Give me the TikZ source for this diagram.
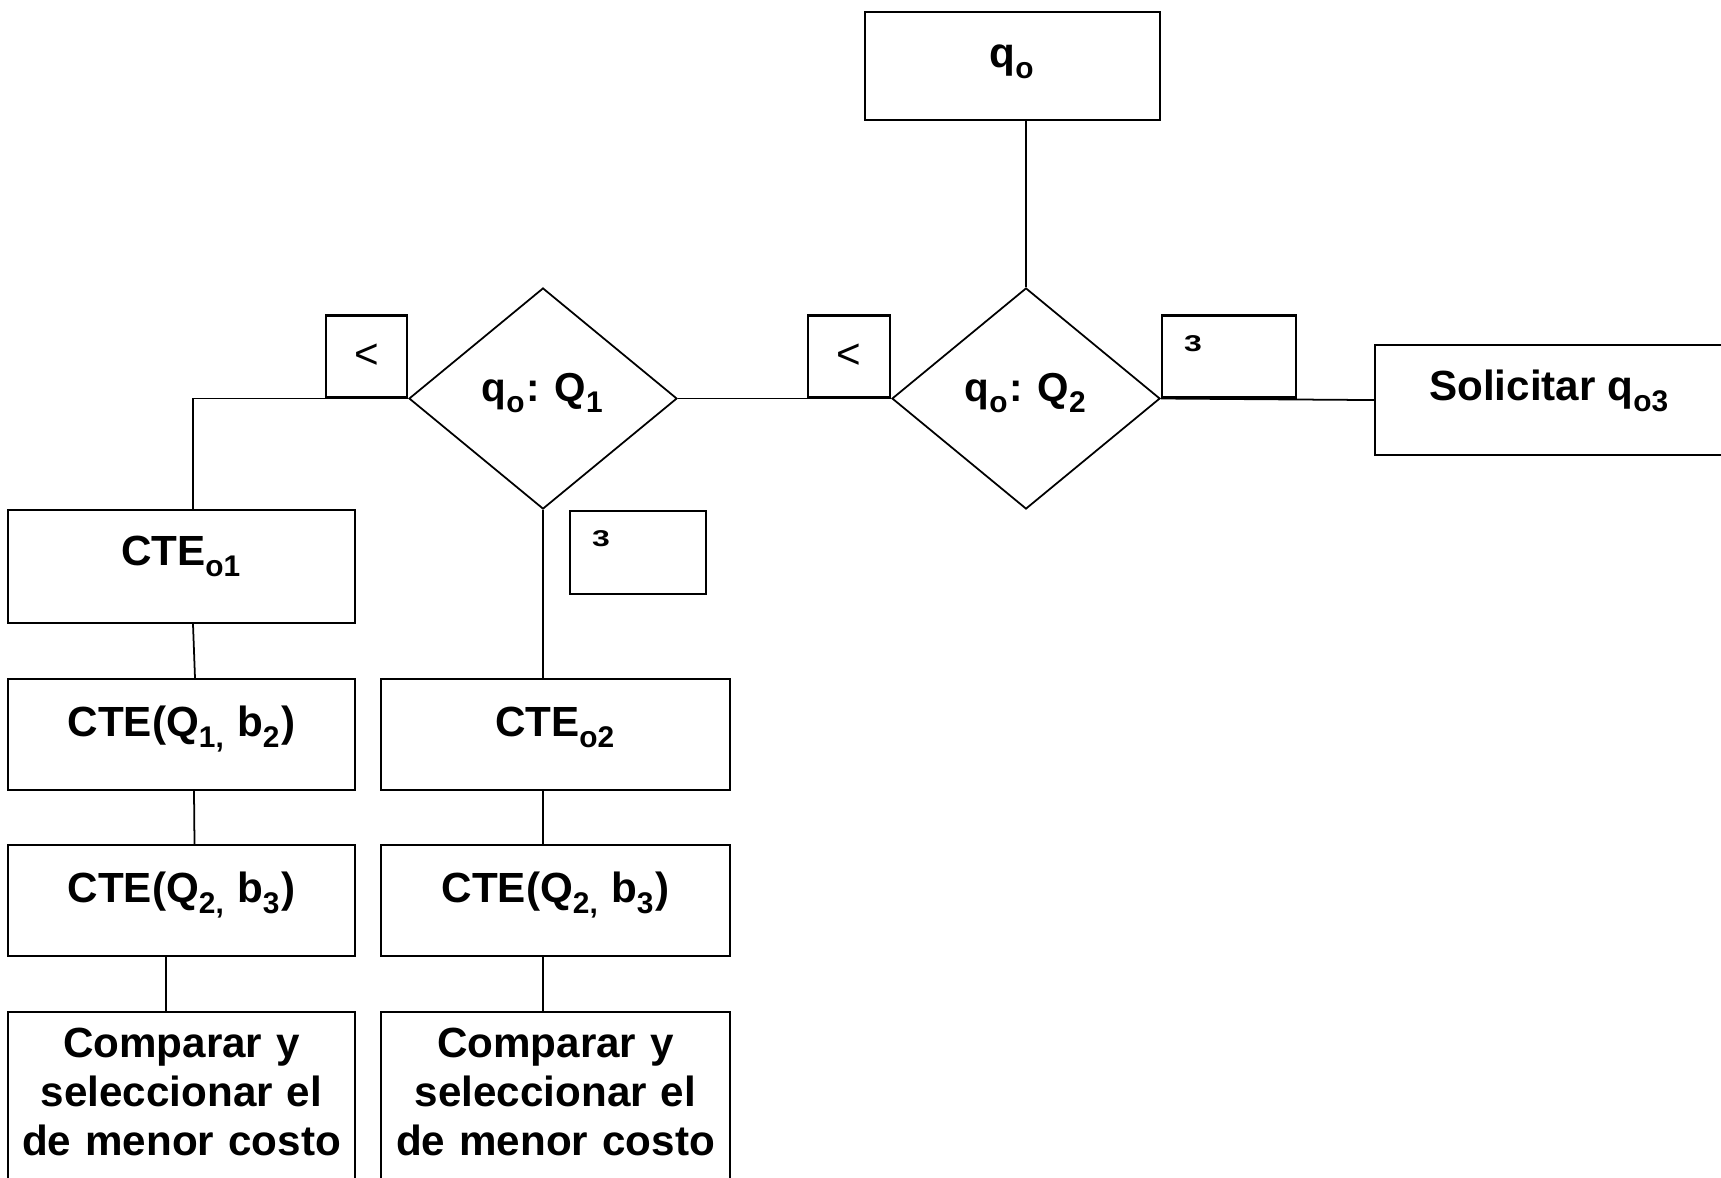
\documentclass[tikz,border=0pt]{standalone}
\usepackage{fontspec}
\setmainfont{Liberation Sans}
\usepackage{tikz}
\usetikzlibrary{shapes.geometric}

\newcommand{\idx}[1]{\raisebox{-0.26em}{\fontsize{8.5}{9}\selectfont #1}\kern0.04em\relax}

\begin{document}
\begin{tikzpicture}[
    caja/.style={draw, line width=0.6, inner sep=0, minimum width=3.47cm,
                 text height=0.57cm, text depth=0.54cm,
                 font=\fontsize{12}{14}\selectfont\bfseries},
    rombo/.style={draw, diamond, line width=0.5, inner sep=0, minimum width=2.68cm,
                  minimum height=2.21cm, text height=0.36cm, text depth=0.30cm,
                  font=\fontsize{11.5}{14}\selectfont\bfseries},
    marca/.style={draw, line width=0.6, inner sep=0, minimum height=0.82cm,
                  font=\fontsize{12}{14}\selectfont},
    tres/.style={inner sep=0, font=\fontsize{6.5}{7}\selectfont\bfseries},
    enlace/.style={line width=0.5}]

  \useasboundingbox (0, 0) rectangle (17.21, -11.77);
  \clip (0, 0) rectangle (17.21, -11.77);

  % top row
  \node[caja, minimum width=2.95cm, text height=0.55cm, text depth=0.53cm, anchor=north]
    (qo) at (10.125, -0.11) {q\idx{o}};
  \node[rombo] (q2) at (10.26, -3.985) {q\idx{o}: Q\idx{2}};
  \node[rombo] (q1) at (5.43, -3.985) {q\idx{o}: Q\idx{1}};
  \node[caja, minimum width=3.49cm, text height=0.55cm, text depth=0.55cm, anchor=north west]
    (sol) at (13.74, -3.44) {Solicitar q\idx{o3}};

  % signs
  \node[marca, minimum width=0.81cm, anchor=south east] (mA) at (q1.west) {<};
  \node[marca, minimum width=0.82cm, anchor=south east] (mB) at (q2.west) {<};
  \node[marca, minimum width=1.34cm, anchor=south west] (mC) at (q2.east) {};
  \node[marca, minimum width=1.36cm, minimum height=0.83cm, anchor=north west]
    (mD) at ([xshift=0.26cm]q1.south) {};
  \node[tres] (tC) at ([shift={(0.32, -0.29)}]mC.north west) {\scalebox{1.4}[1]{3}};
  \node[tres] (tD) at ([shift={(0.32, -0.29)}]mD.north west) {\scalebox{1.4}[1]{3}};

  % left column
  \node[caja, text height=0.55cm, text depth=0.58cm, anchor=north] (cteA) at (1.815, -5.09) {CTE\idx{o1}};
  \node[caja, anchor=north] (cteB) at (1.815, -6.78) {CTE(Q\idx{1,} b\idx{2})};
  \node[caja, anchor=north] (cteC) at (1.815, -8.44) {CTE(Q\idx{2,} b\idx{3})};
  \node[caja, text width=3.47cm, align=center, text height=0.45cm, text depth=1.60cm, anchor=north]
    (cmpL) at (1.815, -10.11) {Comparar y\\seleccionar el\\de menor costo};

  % middle column
  \node[caja, minimum width=3.49cm, anchor=north] (cteD) at (5.555, -6.78) {CTE\idx{o2}};
  \node[caja, minimum width=3.49cm, anchor=north] (cteE) at (5.555, -8.44) {CTE(Q\idx{2,} b\idx{3})};
  \node[caja, text width=3.49cm, align=center, text height=0.45cm, text depth=1.60cm, anchor=north]
    (cmpR) at (5.555, -10.11) {Comparar y\\seleccionar el\\de menor costo};

  % connectors
  \draw[enlace] (qo.south -| q2.north) -- (q2.north);
  \draw[enlace] (q1.east) -- (q2.west);
  \draw[enlace] (q2.east) -- (sol.west);
  \draw[enlace] (q1.west) -| ([xshift=0.115cm]cteA.north);
  \draw[enlace] ([xshift=0.115cm]cteA.south) -- ([xshift=0.135cm]cteB.north);
  \draw[enlace] ([xshift=0.125cm]cteB.south) -- ([xshift=0.13cm]cteC.north);
  \draw[enlace] ([xshift=-0.155cm]cteC.south) -- ([xshift=-0.155cm]cmpL.north);
  \draw[enlace] (q1.south) -- (q1.south |- cteD.north);
  \draw[enlace] ([xshift=-0.125cm]cteD.south) -- ([xshift=-0.125cm]cteE.north);
  \draw[enlace] ([xshift=-0.125cm]cteE.south) -- ([xshift=-0.125cm]cmpR.north);

\end{tikzpicture}
\end{document}
